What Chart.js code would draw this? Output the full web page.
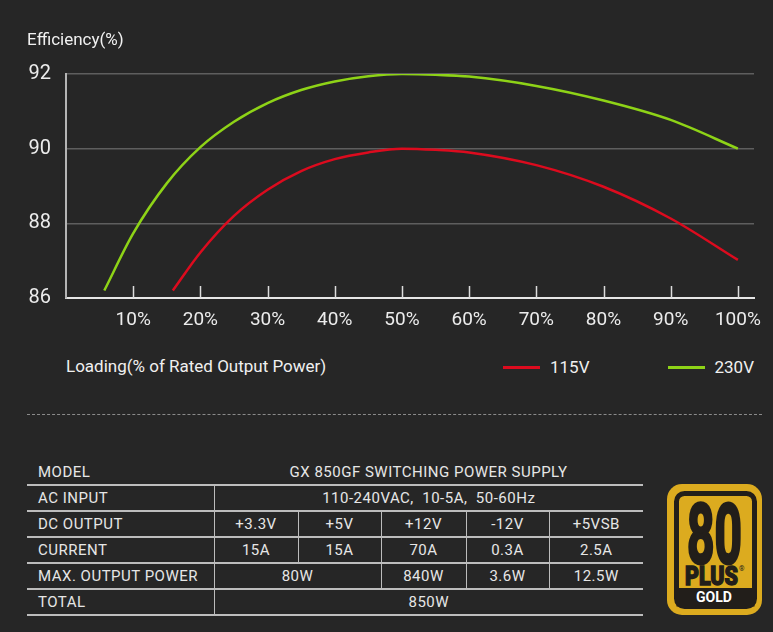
<!DOCTYPE html>
<html>
<head>
<meta charset="utf-8">
<script src="https://cdn.jsdelivr.net/npm/chart.js@4.4.1/dist/chart.umd.min.js"></script>
<style>
  html, body { margin: 0; padding: 0; background: #262626; }
  body { width: 773px; height: 632px; position: relative; overflow: hidden; font-family: Roboto, "Noto Sans", sans-serif; color: #e8e8e8; }
  #chart { position: absolute; left: 0; top: 0; }
  .ytitle { position: absolute; left: 27px; top: 29px; font-size: 17px; color: #f0f0f0; }
  .xtitle { position: absolute; left: 66px; top: 356px; font-size: 17px; color: #f0f0f0; }
  #legend { position: absolute; right: 19px; top: 356px; display: flex; gap: 78px; font-size: 17px; color: #f0f0f0; }
  #legend .item { display: flex; align-items: center; gap: 10px; line-height: 22px; }
  #legend .swatch { width: 37px; height: 3px; }
  .dash { position: absolute; left: 27px; top: 414px; width: 735px; border-top: 1px dashed #8a8a8a; }
  table.spec { position: absolute; left: 27px; top: 460px; border-collapse: collapse; table-layout: fixed; width: 616px; font-size: 15px; letter-spacing: 0.5px; color: #e6e6e6; }
  table.spec td { height: 24px; padding: 0; border-bottom: 2px solid #bcbcbc; border-left: 1px solid #bcbcbc; text-align: center; white-space: pre; }
  table.spec td.lab { text-align: left; padding-left: 11px; border-left: none; }
  table.spec td.nol { border-left: none; }
  svg.logo { position: absolute; left: 660px; top: 478px; }
</style>
</head>
<body>
<canvas id="chart" width="773" height="340"></canvas>
<div class="ytitle">Efficiency(%)</div>
<div class="xtitle">Loading(% of Rated Output Power)</div>
<div id="legend"></div>
<div class="dash"></div>
<table class="spec" id="spec">
  <colgroup>
    <col style="width:187px"><col style="width:84px"><col style="width:83px"><col style="width:85px"><col style="width:83px"><col style="width:94px">
  </colgroup>
  <tbody></tbody>
</table>
<svg class="logo" width="110" height="142" viewBox="0 0 110 142">
  <rect x="7" y="6" width="95" height="131" rx="15" fill="#dcab1f"/>
  <rect x="16.5" y="15.5" width="78" height="113" rx="8" fill="#dcab1f" stroke="#221e1a" stroke-width="5"/>
  <rect x="16.5" y="110" width="78" height="18.5" fill="#221e1a"/>
  <text x="27" y="85" font-family="Roboto" font-weight="700" font-size="84" fill="#221e1a" stroke="#221e1a" stroke-width="3.2" textLength="55" lengthAdjust="spacingAndGlyphs">80</text>
  <text x="25" y="107" font-family="Roboto" font-weight="900" font-size="25" fill="#221e1a" stroke="#221e1a" stroke-width="1.4" textLength="53" lengthAdjust="spacingAndGlyphs">PLUS</text>
  <text x="79" y="93" font-family="Roboto" font-size="7" fill="#221e1a">®</text>
  <text x="36" y="124" font-family="Roboto" font-weight="700" font-size="14" fill="#ffffff" textLength="36" lengthAdjust="spacingAndGlyphs">GOLD</text>
</svg>
<script>
// efficiency curves
const load230 = [5.7, 10, 15, 20, 25, 30, 35, 40, 45, 50, 55, 60, 70, 80, 90, 100];
const eff230 = [86.2, 87.73, 89.07, 90.04, 90.72, 91.22, 91.57, 91.8, 91.94, 92.0, 91.98, 91.93, 91.68, 91.29, 90.77, 90.0];
const load115 = [15.9, 20, 25, 30, 35, 40, 45, 50, 55, 60, 70, 80, 90, 100];
const eff115 = [86.2, 87.22, 88.2, 88.9, 89.4, 89.72, 89.9, 90.0, 89.97, 89.9, 89.56, 88.98, 88.13, 87.02];
const xTicks = [10, 20, 30, 40, 50, 60, 70, 80, 90, 100];
const yTicks = [86, 88, 90, 92];

// spec table rows: [label, [text, colspan], ...]
const specRows = [
  ['MODEL', ['GX 850GF SWITCHING POWER SUPPLY', 5]],
  ['AC INPUT', ['110-240VAC,  10-5A,  50-60Hz', 5]],
  ['DC OUTPUT', ['+3.3V', 1], ['+5V', 1], ['+12V', 1], ['-12V', 1], ['+5VSB', 1]],
  ['CURRENT', ['15A', 1], ['15A', 1], ['70A', 1], ['0.3A', 1], ['2.5A', 1]],
  ['MAX. OUTPUT POWER', ['80W', 2], ['840W', 1], ['3.6W', 1], ['12.5W', 1]],
  ['TOTAL', ['850W', 5]]
];

const toPoints = (xs, ys) => xs.map((x, i) => ({ x: x, y: ys[i] }));

// short tick marks pointing up from the x axis
const upTicks = {
  id: 'upTicks',
  beforeDatasetsDraw(chart) {
    const sx = chart.scales.x, ctx = chart.ctx, b = chart.chartArea.bottom;
    ctx.save();
    ctx.strokeStyle = '#dcdcdc';
    ctx.lineWidth = 1.5;
    sx.ticks.forEach(t => {
      const px = Math.round(sx.getPixelForValue(t.value)) + 0.5;
      ctx.beginPath();
      ctx.moveTo(px, b);
      ctx.lineTo(px, b - 12);
      ctx.stroke();
    });
    ctx.restore();
  }
};

const ctx = document.getElementById('chart').getContext('2d');
const myChart = new Chart(ctx, {
  type: 'line',
  data: {
    datasets: [
      { label: '115V', data: toPoints(load115, eff115), borderColor: '#dc0b1e', borderWidth: 2.5, pointRadius: 0, cubicInterpolationMode: 'monotone' },
      { label: '230V', data: toPoints(load230, eff230), borderColor: '#8ed317', borderWidth: 2.5, pointRadius: 0, cubicInterpolationMode: 'monotone' }
    ]
  },
  options: {
    responsive: false,
    animation: false,
    layout: { padding: { top: 74, right: 19, left: 0, bottom: 0 } },
    plugins: { legend: { display: false }, tooltip: { enabled: false } },
    scales: {
      x: {
        type: 'linear',
        min: 0,
        max: 102.4,
        afterBuildTicks: (s) => { s.ticks = xTicks.map(v => ({ value: v })); },
        afterFit: (s) => { s.height = 42; },
        grid: { display: false, drawTicks: false },
        border: { display: true, color: '#e6e6e6', width: 2 },
        ticks: { includeBounds: false, padding: 11, color: '#ececec', font: { family: 'Roboto', size: 19 }, maxRotation: 0, autoSkip: false, callback: (v) => v + '%' }
      },
      y: {
        min: 86,
        max: 92,
        afterBuildTicks: (s) => { s.ticks = yTicks.map(v => ({ value: v })); },
        afterFit: (s) => { s.width = 66; },
        grid: { color: '#5e5e5e', lineWidth: 1.5, drawTicks: false },
        border: { display: true, color: '#b4b4b4', width: 2 },
        ticks: { padding: 15, color: '#ececec', font: { family: 'Roboto', size: 20 } }
      }
    }
  },
  plugins: [upTicks]
});

// html legend from the datasets
const legend = document.getElementById('legend');
myChart.data.datasets.forEach(ds => {
  const item = document.createElement('div');
  item.className = 'item';
  const sw = document.createElement('span');
  sw.className = 'swatch';
  sw.style.background = ds.borderColor;
  const tx = document.createElement('span');
  tx.textContent = ds.label;
  item.appendChild(sw);
  item.appendChild(tx);
  legend.appendChild(item);
});

// spec table
const tbody = document.querySelector('#spec tbody');
specRows.forEach((row, r) => {
  const tr = document.createElement('tr');
  const lab = document.createElement('td');
  lab.className = 'lab';
  lab.textContent = row[0];
  tr.appendChild(lab);
  row.slice(1).forEach(([txt, span]) => {
    const td = document.createElement('td');
    td.textContent = txt;
    td.colSpan = span;
    if (r === 0) td.className = 'nol';
    tr.appendChild(td);
  });
  tbody.appendChild(tr);
});
</script>
</body>
</html>
